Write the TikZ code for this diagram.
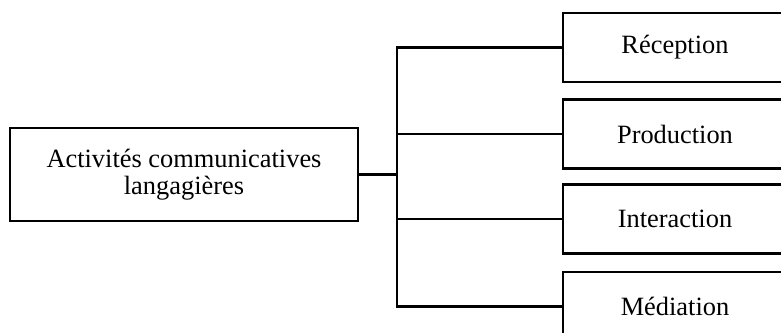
\documentclass[tikz,border=0pt]{standalone}
\usepackage{fontspec}
\setmainfont{Liberation Serif}
\begin{document}
\begin{tikzpicture}[x=1pt,y=-1pt,
  box/.style={draw=black, line width=2.3pt, inner sep=0pt, align=center,
    font=\fontsize{26.4}{26.5}\selectfont},
  rootbox/.style={box, minimum width=348pt, minimum height=93pt},
  leafbox/.style={box, minimum width=224pt, minimum height=69pt},
  link/.style={draw=black, line width=2.3pt}]
  \useasboundingbox (0,0) rectangle (781,332);

  % root node and the four activity boxes
  \node[rootbox] (root) at (184,174.5) {Activités communicatives\\langagières};
  \node[leafbox] (rec)  at (675,47.5)  {Réception};
  \node[leafbox] (prod) at (675,134)   {Production};
  \node[leafbox] (inter) at (675,219)  {Interaction};
  \node[leafbox] (med)  at (675,306.5) {Médiation};

  % branching point on the vertical trunk, level with the root box
  \coordinate (j) at (root.east -| 397,0);

  % connectors
  \draw[link] (root.east) -- (j);
  \draw[link] (rec.west) -| (j) |- (med.west);
  \draw[link] (prod.west) -- (prod.west -| j);
  \draw[link] (inter.west) -- (inter.west -| j);
\end{tikzpicture}
\end{document}
